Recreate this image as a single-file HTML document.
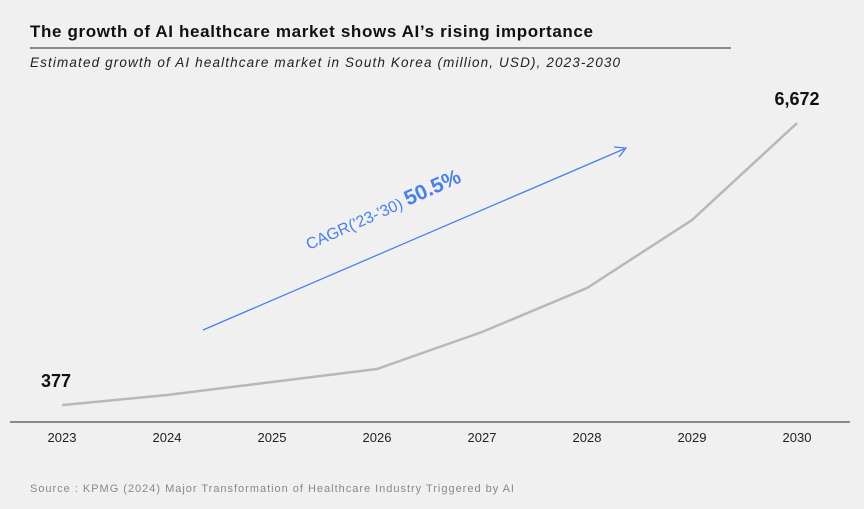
<!DOCTYPE html>
<html><head><meta charset="utf-8"><style>
body{margin:0;background:#f0f0f0;font-family:"Liberation Sans",sans-serif;}
svg{display:block}
</style></head><body>
<svg width="864" height="509">
<rect width="864" height="509" fill="#f0f0f0"/>
<text x="30" y="37" font-size="17" font-weight="bold" fill="#111" textLength="563">The growth of AI healthcare market shows AI’s rising importance</text>
<line x1="30" y1="48" x2="731" y2="48" stroke="#222" stroke-width="1"/>
<text x="30" y="67" font-size="13.5" font-style="italic" fill="#222" textLength="590">Estimated growth of AI healthcare market in South Korea (million, USD), 2023-2030</text>
<line x1="10" y1="422" x2="850" y2="422" stroke="#222" stroke-width="1"/>
<g id="xl"></g>
<g id="ln"></g>
<line x1="203" y1="330" x2="624" y2="149" stroke="#4a80e8" stroke-width="1.3"/>
<polyline points="614,147 626,148 619,157" fill="none" stroke="#4a80e8" stroke-width="1.3"/>
<text transform="translate(309,250) rotate(-24)" font-size="16" fill="#4a80e8">CAGR('23-'30) <tspan font-weight="bold" font-size="21">50.5%</tspan></text>
<text x="30" y="492" font-size="11" fill="#888" textLength="484">Source : KPMG (2024) Major Transformation of Healthcare Industry Triggered by AI</text>
</svg>
<script>
const years=["2023","2024","2025","2026","2027","2028","2029","2030"];
const values=[377,603,893,1183,2009,2991,4509,6672];
const ns="http://www.w3.org/2000/svg";
const x=i=>62+i*105;
const y=v=>422-v*(282/6295);
const xl=document.getElementById('xl'),ln=document.getElementById('ln');
years.forEach((yr,i)=>{
 const t=document.createElementNS(ns,'text');
 t.setAttribute('x',x(i));t.setAttribute('y',442);t.setAttribute('font-size','13');t.setAttribute('text-anchor','middle');t.setAttribute('fill','#222');
 t.textContent=yr;
 
 
 xl.appendChild(t);
});
const pl=document.createElementNS(ns,'polyline');
pl.setAttribute('points',values.map((v,i)=>x(i)+','+y(v)).join(' '));
pl.setAttribute('fill','none');pl.setAttribute('stroke','#b8b8b8');pl.setAttribute('stroke-width','2.5');


ln.appendChild(pl);
[[0,'start',-21],[values.length-1,'middle',0]].forEach(([i,a,dx])=>{
 const t=document.createElementNS(ns,'text');
 t.setAttribute('x',x(i)+dx);t.setAttribute('y',y(values[i])-18);t.setAttribute('font-size','18');t.setAttribute('font-weight','bold');t.setAttribute('text-anchor',a);t.setAttribute('fill','#111');
 t.textContent=values[i].toLocaleString('en-US');
 
 
 ln.appendChild(t);
});
</script>
</body></html>
